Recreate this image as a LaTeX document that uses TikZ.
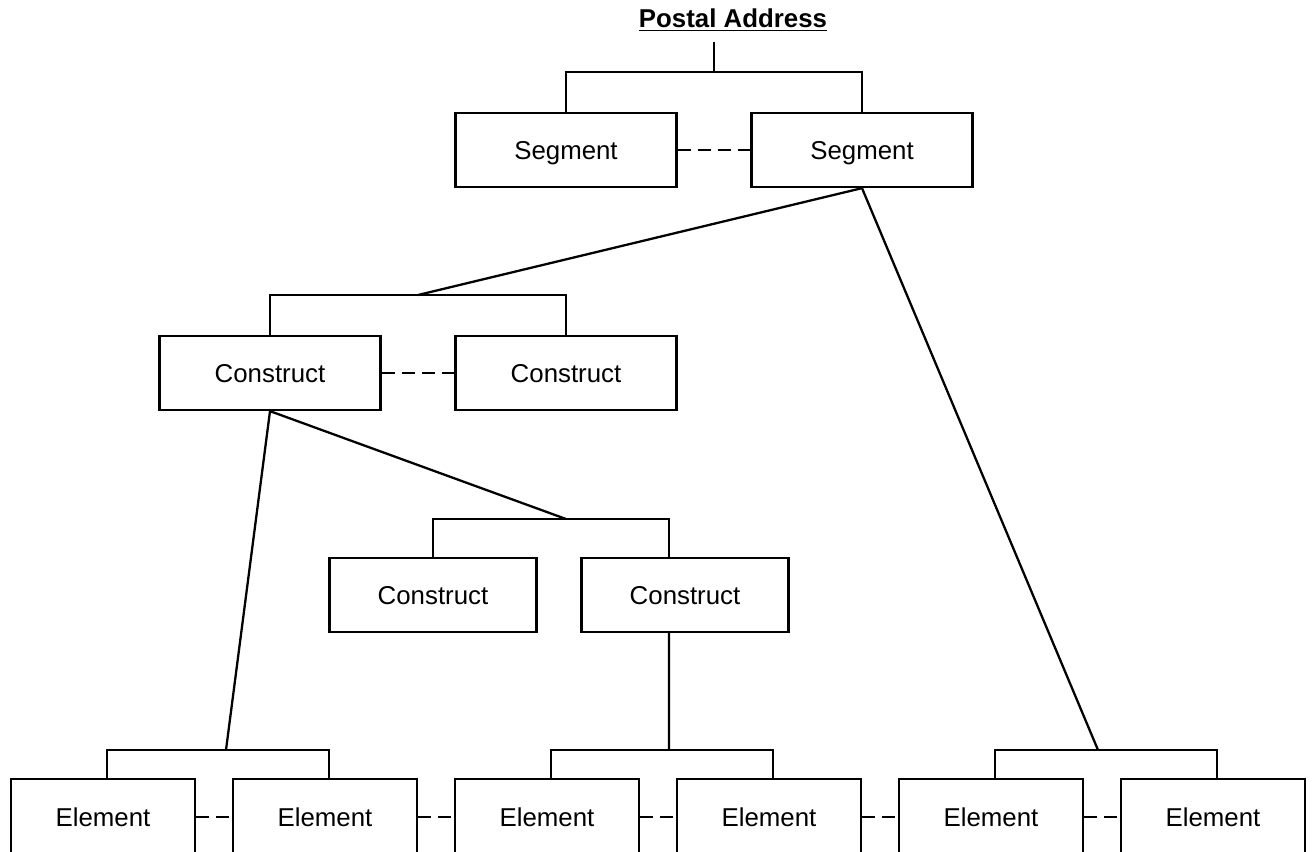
\documentclass[tikz,border=0pt]{standalone}
\usepackage{fontspec}
\setmainfont{Liberation Sans}
\usetikzlibrary{positioning}
\tikzset{box/.style = {draw, line width=1.3pt, minimum width=4.42cm, minimum height=1.48cm, inner sep=0pt, text height=10.5pt, text depth=0pt, font=\fontsize{14.7}{17}\selectfont}}
\tikzset{smallbox/.style = {box, minimum width=4.14cm}}
\tikzset{elem/.style = {box, minimum width=3.68cm, minimum height=1.52cm}}
\tikzset{link/.style = {line width=1.3pt}}
\tikzset{alt/.style = {line width=1.3pt, dash pattern=on 0.26cm off 0.14cm}}

\begin{document}
\begin{tikzpicture}[x=0.02cm, y=-0.02cm]
\useasboundingbox (0,0) rectangle (1316,852);
% heading
\node[anchor=base, font=\fontsize{14.7}{17}\selectfont\bfseries] (title) at (733,28) {\underline{Postal Address}};
\coordinate (segtop) at (714,42);
\coordinate (segbar) at (714,72);
% segments
\node[box] (seg1) at (566,150) {Segment};
\node[box] (seg2) at (862,150) {Segment};
\draw[link] (segtop) -- (segbar);
\draw[link] (seg1.north) |- (segbar) -| (seg2.north);
\draw[alt] (seg1) -- (seg2);
% constructs
\coordinate (conbar) at (418,295);
\node[box] (con1) at (270,373) {Construct};
\node[box] (con2) at (566,373) {Construct};
\draw[link] (con1.north) |- (conbar) -| (con2.north);
\draw[link] (seg2.south) -- (conbar);
\draw[alt] (con1) -- (con2);
\coordinate (subbar) at (566,519);
\node[smallbox] (con3) at (433,595) {Construct};
\node[smallbox] (con4) at (685,595) {Construct};
\draw[link] (con3.north) |- (subbar) -| ([xshift=-0.32cm]con4.north);
\draw[link] (con1.south) -- (subbar);
% elements
\foreach \i/\x in {1/103,2/325,3/547,4/769,5/991,6/1213}
  \node[elem] (el\i) at (\x,817) {Element};
\foreach \a/\b in {1/2,2/3,3/4,4/5,5/6}
  \draw[alt] (el\a) -- (el\b);
\coordinate (elbar1) at (226,750);
\coordinate (elbar2) at (669,750);
\coordinate (elbar3) at (1098,750);
\draw[link] ([xshift=0.08cm]el1.north) |- (elbar1) -| ([xshift=0.08cm]el2.north);
\draw[link] ([xshift=0.08cm]el3.north) |- (elbar2) -| ([xshift=0.08cm]el4.north);
\draw[link] ([xshift=0.08cm]el5.north) |- (elbar3) -| ([xshift=0.08cm]el6.north);
\draw[link] (con1.south) -- (elbar1);
\draw[link] ([xshift=-0.32cm]con4.south) -- (elbar2);
\draw[link] (seg2.south) -- (elbar3);
\end{tikzpicture}
\end{document}
